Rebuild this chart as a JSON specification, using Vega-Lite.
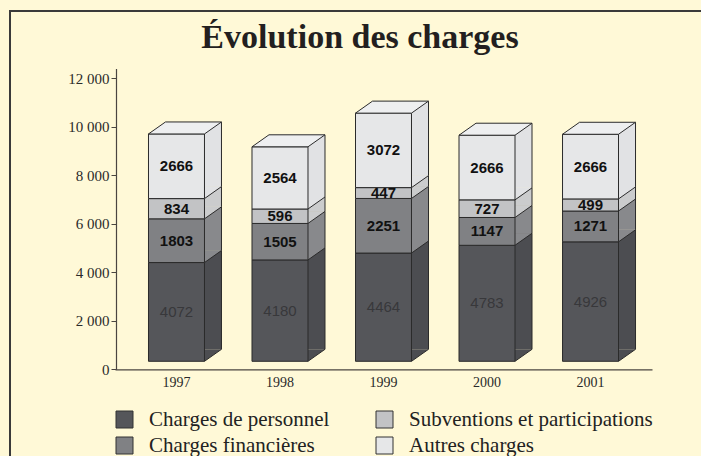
{
  "$schema": "https://vega.github.io/schema/vega-lite/v6.json",
  "width": 700,
  "height": 460,
  "autosize": {"type": "none"},
  "padding": {"left": 10, "top": 11, "right": 0, "bottom": 0},
  "background": "#FFF9D7",
  "config": {
    "view": {"stroke": "#3a3a3a", "strokeWidth": 2, "fill": "#FFF9D7"},
    "font": "Liberation Serif"
  },
  "title": {
    "text": "Évolution des charges",
    "font": "Liberation Serif",
    "fontSize": 34,
    "fontWeight": "bold",
    "color": "#231f20",
    "anchor": "middle",
    "frame": "group",
    "baseline": "alphabetic",
    "offset": -36,
    "dy": 35
  },
  "data": {
    "values": [
      {"year": "1997", "cat": "Charges de personnel", "value": 4072, "ordre": 1},
      {"year": "1997", "cat": "Charges financières", "value": 1803, "ordre": 2},
      {"year": "1997", "cat": "Subventions et participations", "value": 834, "ordre": 3},
      {"year": "1997", "cat": "Autres charges", "value": 2666, "ordre": 4},
      {"year": "1998", "cat": "Charges de personnel", "value": 4180, "ordre": 1},
      {"year": "1998", "cat": "Charges financières", "value": 1505, "ordre": 2},
      {"year": "1998", "cat": "Subventions et participations", "value": 596, "ordre": 3},
      {"year": "1998", "cat": "Autres charges", "value": 2564, "ordre": 4},
      {"year": "1999", "cat": "Charges de personnel", "value": 4464, "ordre": 1},
      {"year": "1999", "cat": "Charges financières", "value": 2251, "ordre": 2},
      {"year": "1999", "cat": "Subventions et participations", "value": 447, "ordre": 3},
      {"year": "1999", "cat": "Autres charges", "value": 3072, "ordre": 4},
      {"year": "2000", "cat": "Charges de personnel", "value": 4783, "ordre": 1},
      {"year": "2000", "cat": "Charges financières", "value": 1147, "ordre": 2},
      {"year": "2000", "cat": "Subventions et participations", "value": 727, "ordre": 3},
      {"year": "2000", "cat": "Autres charges", "value": 2666, "ordre": 4},
      {"year": "2001", "cat": "Charges de personnel", "value": 4926, "ordre": 1},
      {"year": "2001", "cat": "Charges financières", "value": 1271, "ordre": 2},
      {"year": "2001", "cat": "Subventions et participations", "value": 499, "ordre": 3},
      {"year": "2001", "cat": "Autres charges", "value": 2666, "ordre": 4}
    ]
  },
  "transform": [
    {"stack": "value", "groupby": ["year"], "sort": [{"field": "ordre", "order": "ascending"}], "as": ["v0", "v1"]},
    {"calculate": "(datum.v0 + datum.v1) / 2", "as": "mid"}
  ],
  "encoding": {
    "x": {
      "field": "year",
      "type": "nominal",
      "sort": null,
      "scale": {"type": "band", "range": [105, 642], "paddingInner": 0, "paddingOuter": 0.094},
      "axis": {
        "orient": "bottom",
        "offset": -101.7,
        "title": null,
        "ticks": false,
        "labelAngle": 0,
        "labelPadding": 6,
        "labelFont": "Liberation Serif",
        "labelFontSize": 14,
        "labelColor": "#2a2a2a",
        "domainColor": "#4a4540",
        "domainWidth": 1.2
      }
    }
  },
  "resolve": {"axis": {"y": "independent"}, "legend": {"color": "independent", "fill": "independent"}},
  "layer": [
    {
      "mark": {"type": "bar", "xOffset": 17, "yOffset": -20, "y2Offset": -20, "width": {"band": 0.541}, "strokeWidth": 0},
      "encoding": {
        "y": {"field": "v1", "type": "quantitative", "scale": {"domain": [0, 12400], "range": [358.3, 57.6], "nice": false}, "axis": null},
        "y2": {"field": "v0"},
        "fill": {"field": "cat", "type": "nominal", "scale": {"domain": ["Charges de personnel", "Subventions et participations", "Charges financières", "Autres charges"], "range": ["#4c4d51", "#cbcccd", "#88898c", "#e1e2e4"]}, "legend": null}
      }
    },
    {
      "mark": {"type": "point", "shape": "M0,0L0,-0.706L1,-0.706Z", "size": 1156, "filled": true, "opacity": 1, "strokeWidth": 0, "xOffset": 28, "yOffset": -8},
      "encoding": {
        "y": {"field": "v0", "type": "quantitative", "scale": {"domain": [0, 12400], "range": [358.3, 57.6], "nice": false}, "axis": null},
        "fill": {"field": "cat", "type": "nominal", "scale": {"domain": ["Charges de personnel", "Subventions et participations", "Charges financières", "Autres charges"], "range": ["#4c4d51", "#cbcccd", "#88898c", "#e1e2e4"]}, "legend": null}
      }
    },
    {
      "mark": {"type": "point", "shape": "M0,0L1,-0.706", "size": 1156, "filled": false, "opacity": 1, "color": "#2b2b2b", "strokeWidth": 1, "xOffset": 28, "yOffset": -8},
      "encoding": {
        "y": {"field": "v0", "type": "quantitative", "scale": {"domain": [0, 12400], "range": [358.3, 57.6], "nice": false}, "axis": null}
      }
    },
    {
      "mark": {"type": "rule", "color": "#2b2b2b", "strokeWidth": 1, "xOffset": 45, "yOffset": -20, "y2Offset": -20},
      "encoding": {
        "y": {"field": "v1", "type": "quantitative", "scale": {"domain": [0, 12400], "range": [358.3, 57.6], "nice": false}, "axis": null},
        "y2": {"field": "v0"}
      }
    },
    {
      "mark": {"type": "bar", "yOffset": -8, "y2Offset": -8, "width": {"band": 0.541}, "stroke": "#2b2b2b", "strokeWidth": 1},
      "encoding": {
        "y": {
          "field": "v1",
          "type": "quantitative",
          "scale": {"domain": [0, 12400], "range": [358.3, 57.6], "nice": false},
          "axis": {
            "orient": "left",
            "offset": -106,
            "title": null,
            "grid": false,
            "values": [0, 2000, 4000, 6000, 8000, 10000, 12000],
            "labelExpr": "replace(format(datum.value, ',d'), ',', ' ')",
            "labelFont": "Liberation Serif",
            "labelFontSize": 15,
            "labelColor": "#2a2a2a",
            "labelPadding": 2,
            "tickSize": 5,
            "tickColor": "#4a4540",
            "domainColor": "#4a4540",
            "domainWidth": 1.2
          }
        },
        "y2": {"field": "v0"},
        "color": {
          "field": "cat",
          "type": "nominal",
          "scale": {"domain": ["Charges de personnel", "Subventions et participations", "Charges financières", "Autres charges"], "range": ["#55565a", "#c2c3c5", "#808184", "#e6e7e8"]},
          "legend": {
            "orient": "none",
            "direction": "horizontal",
            "legendX": 104,
            "legendY": 398,
            "title": null,
            "columns": 2,
            "columnPadding": 44,
            "rowPadding": 4,
            "symbolType": "square",
            "symbolSize": 289,
            "symbolStrokeColor": "#333333",
            "symbolStrokeWidth": 1,
            "symbolOpacity": 1,
            "labelFont": "Liberation Serif",
            "labelFontSize": 21,
            "labelColor": "#222222",
            "labelOffset": 14,
            "labelLimit": 400
          }
        }
      }
    },
    {
      "transform": [{"filter": "datum.cat === 'Autres charges'"}],
      "mark": {"type": "point", "shape": "M0,0L3.294,0L4.294,-0.706L1,-0.706Z", "size": 1156, "filled": true, "opacity": 1, "fill": "#eeeff0", "stroke": "#2b2b2b", "strokeWidth": 1, "xOffset": -28, "yOffset": -8},
      "encoding": {
        "y": {"field": "v1", "type": "quantitative", "scale": {"domain": [0, 12400], "range": [358.3, 57.6], "nice": false}, "axis": null}
      }
    },
    {
      "transform": [{"filter": "datum.cat !== 'Charges de personnel'"}],
      "mark": {"type": "text", "font": "Liberation Sans", "fontSize": 15, "fontWeight": "bold", "color": "#111111", "baseline": "middle", "yOffset": -8},
      "encoding": {
        "y": {"field": "mid", "type": "quantitative", "scale": {"domain": [0, 12400], "range": [358.3, 57.6], "nice": false}, "axis": null},
        "text": {"field": "value", "type": "quantitative", "format": "d"}
      }
    },
    {
      "transform": [{"filter": "datum.cat === 'Charges de personnel'"}],
      "mark": {"type": "text", "font": "Liberation Sans", "fontSize": 15, "color": "#38383b", "baseline": "middle", "yOffset": -8},
      "encoding": {
        "y": {"field": "mid", "type": "quantitative", "scale": {"domain": [0, 12400], "range": [358.3, 57.6], "nice": false}, "axis": null},
        "text": {"field": "value", "type": "quantitative", "format": "d"}
      }
    }
  ]
}
